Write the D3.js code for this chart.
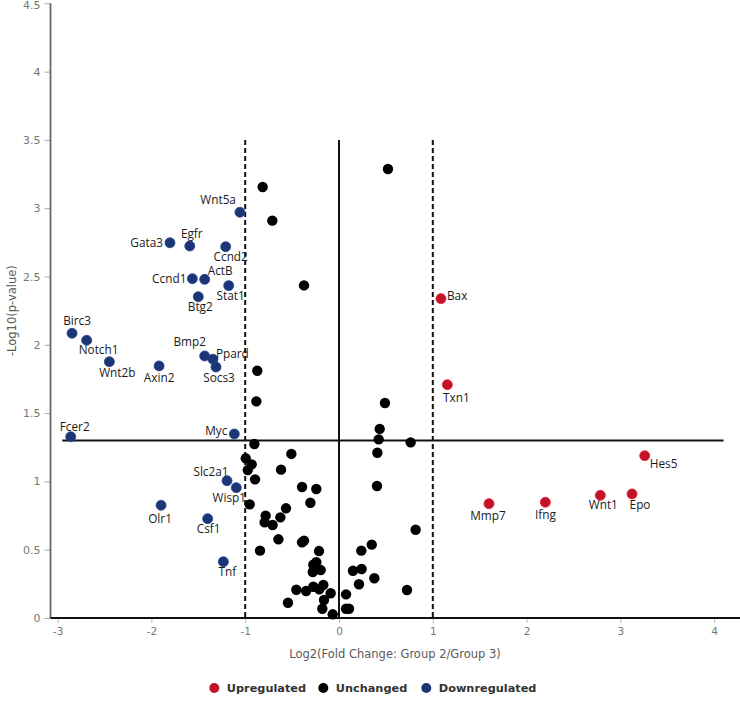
<!DOCTYPE html>
<html>
<head>
<meta charset="utf-8">
<script src="https://cdn.jsdelivr.net/npm/d3@7"></script>
<style>
  html, body { margin: 0; padding: 0; background: #fff; }
  svg { display: block; }
</style>
</head>
<body>
<svg id="chart" width="740" height="702"></svg>
<script>
// ---- Data ----
const upGenes = ["Bax", "Txn1", "Hes5", "Mmp7", "Ifng", "Wnt1", "Epo"];
const upLog2FC = [1.087, 1.155, 3.259, 1.599, 2.200, 2.786, 3.124];
const upNegLogP = [2.338, 1.708, 1.188, 0.837, 0.847, 0.898, 0.908];

const downGenes = ["Wnt5a", "Gata3", "Egfr", "Ccnd2", "Ccnd1", "ActB", "Stat1", "Btg2",
  "Birc3", "Notch1", "Wnt2b", "Axin2", "Bmp2", "Ppard", "Socs3", "Fcer2", "Myc",
  "Slc2a1", "Wisp1", "Olr1", "Csf1", "Tnf"];
const downLog2FC = [-1.056, -1.802, -1.591, -1.208, -1.563, -1.432, -1.176, -1.500,
  -2.846, -2.690, -2.448, -1.918, -1.432, -1.344, -1.311, -2.860, -1.116,
  -1.194, -1.095, -1.897, -1.400, -1.233];
const downNegLogP = [2.970, 2.747, 2.723, 2.718, 2.484, 2.479, 2.433, 2.352,
  2.084, 2.033, 1.876, 1.845, 1.918, 1.894, 1.837, 1.327, 1.347,
  1.005, 0.954, 0.825, 0.727, 0.412];

const unchangedLog2FC = [0.522, -0.814, -0.711, -0.373, -0.871, -0.881, 0.490, 0.434,
  0.423, 0.764, -0.902, -0.508, 0.409, -0.994, -0.931, -0.973, -0.618, -0.895,
  -0.394, -0.242, 0.405, -0.952, -0.305, -0.565, -0.782, -0.625, -0.793, -0.708,
  0.817, -0.646, -0.394, -0.373, 0.349, -0.842, -0.213, 0.238, -0.242, -0.274,
  -0.195, -0.280, 0.149, 0.241, 0.377, 0.213, -0.455, -0.351, -0.274, -0.210,
  -0.167, -0.089, 0.075, 0.725, -0.544, -0.160, -0.178, 0.075, 0.107, -0.067];
const unchangedNegLogP = [3.287, 3.155, 2.909, 2.435, 1.810, 1.586, 1.574, 1.384,
  1.308, 1.286, 1.274, 1.201, 1.210, 1.169, 1.125, 1.083, 1.086, 1.015,
  0.959, 0.944, 0.966, 0.832, 0.844, 0.803, 0.749, 0.737, 0.700, 0.681,
  0.646, 0.576, 0.554, 0.566, 0.537, 0.493, 0.490, 0.493, 0.408, 0.390,
  0.351, 0.337, 0.346, 0.359, 0.291, 0.247, 0.207, 0.198, 0.229, 0.210,
  0.242, 0.181, 0.173, 0.205, 0.112, 0.132, 0.068, 0.068, 0.068, 0.027];

const xTicks = [-3, -2, -1, 0, 1, 2, 3, 4];
const yTicks = [0, 0.5, 1, 1.5, 2, 2.5, 3, 3.5, 4, 4.5];
const fcThreshold = 1;
const pThreshold = 1.3;
const legendLabels = ["Upregulated", "Unchanged", "Downregulated"];

// ---- Label placement (layout only) ----
const labelPlace = {
  Wnt5a: ["end", -4, -8], Gata3: ["end", -7, 4], Egfr: ["middle", 2, -8],
  Ccnd2: ["middle", 5, 14], Ccnd1: ["end", -6, 4], ActB: ["start", 3, -4],
  Stat1: ["middle", 2, 14], Btg2: ["middle", 2, 14], Birc3: ["middle", 5, -8],
  Notch1: ["start", -8, 14], Wnt2b: ["middle", 8, 15], Axin2: ["middle", 0, 16],
  Bmp2: ["middle", -15, -10], Ppard: ["start", 3, -1], Socs3: ["middle", 3, 15],
  Fcer2: ["middle", 4, -6], Myc: ["end", -7, 1], Slc2a1: ["middle", -16, -5],
  Wisp1: ["middle", -7, 14], Olr1: ["middle", -1, 18], Csf1: ["middle", 1, 14],
  Tnf: ["middle", 4, 14],
  Bax: ["start", 6, 1], Txn1: ["middle", 9, 17], Hes5: ["start", 5, 12],
  Mmp7: ["middle", -1, 16], Ifng: ["middle", 0, 17], Wnt1: ["middle", 3, 14],
  Epo: ["middle", 8, 15]
};

const colors = { up: "#c0142a", none: "#000000", down: "#1c3675" };

// ---- Scales ----
const svg = d3.select("#chart");
const x = d3.scaleLinear().domain([-3, 4]).range([57.6, 714.2]);
const y = d3.scaleLinear().domain([0, 4.5]).range([618, 3.3]);
const axisLeftX = 50.5, axisRightX = 740;

// ---- Axes ----
const yAxis = svg.append("g")
  .attr("transform", `translate(${axisLeftX},0)`)
  .call(d3.axisLeft(y).tickValues(yTicks).tickSize(6).tickPadding(4)
    .tickFormat(d => String(d)));
yAxis.select(".domain").remove();
yAxis.selectAll(".tick line").attr("stroke", "#aaa");
yAxis.selectAll(".tick text").attr("fill", "#777")
  .style("font-family", "DejaVu Sans").style("font-size", "11px")
  .attr("dy", d => d === 4.5 ? "0.75em" : "0.32em")
  .attr("y", d => d === 4.5 ? -3.3 : 0);

const xAxis = svg.append("g")
  .attr("transform", `translate(0,${y(0)})`)
  .call(d3.axisBottom(x).tickValues(xTicks).tickSize(5).tickPadding(5)
    .tickFormat(d => String(d)));
xAxis.select(".domain").remove();
xAxis.selectAll(".tick line").attr("stroke", "#bbb");
xAxis.selectAll(".tick text").attr("fill", "#777")
  .style("font-family", "DejaVu Sans").style("font-size", "10.5px");

svg.append("line")
  .attr("x1", axisLeftX).attr("x2", axisLeftX).attr("y1", y(4.5)).attr("y2", y(0))
  .attr("stroke", "#666").attr("stroke-width", 1.8);
svg.append("line")
  .attr("x1", axisLeftX).attr("x2", axisRightX).attr("y1", y(0)).attr("y2", y(0))
  .attr("stroke", "#111").attr("stroke-width", 2);

// axis titles
svg.append("text")
  .attr("x", 395).attr("y", 658)
  .attr("text-anchor", "middle").attr("fill", "#5a5a5a")
  .style("font-family", "DejaVu Sans").style("font-size", "11.5px")
  .text("Log2(Fold Change: Group 2/Group 3)");
svg.append("text")
  .attr("transform", `translate(16,${y(2.25)}) rotate(-90)`)
  .attr("text-anchor", "middle").attr("fill", "#5a5a5a")
  .style("font-family", "DejaVu Sans").style("font-size", "11.5px")
  .text("-Log10(p-value)");

// ---- Threshold lines ----
const g = svg.append("g");
g.append("line")
  .attr("x1", x(0)).attr("x2", x(0)).attr("y1", y(3.5)).attr("y2", y(0))
  .attr("stroke", "#111").attr("stroke-width", 2);
[-fcThreshold, fcThreshold].forEach(v => {
  g.append("line")
    .attr("x1", x(v)).attr("x2", x(v)).attr("y1", y(3.5)).attr("y2", y(0))
    .attr("stroke", "#111").attr("stroke-width", 2).attr("stroke-dasharray", "5,3");
});
g.append("line")
  .attr("x1", x(-2.95)).attr("x2", x(4.10)).attr("y1", y(pThreshold)).attr("y2", y(pThreshold))
  .attr("stroke", "#111").attr("stroke-width", 2);

// ---- Points ----
const unchanged = unchangedLog2FC.map((v, i) => ({ fc: v, p: unchangedNegLogP[i] }));
const up = upGenes.map((n, i) => ({ name: n, fc: upLog2FC[i], p: upNegLogP[i] }));
const down = downGenes.map((n, i) => ({ name: n, fc: downLog2FC[i], p: downNegLogP[i] }));

g.selectAll("circle.none").data(unchanged).enter().append("circle")
  .attr("class", "none")
  .attr("cx", d => x(d.fc)).attr("cy", d => y(d.p)).attr("r", 5.2)
  .attr("fill", colors.none);

function drawGroup(data, color, cls) {
  g.selectAll("circle." + cls).data(data).enter().append("circle")
    .attr("class", cls)
    .attr("cx", d => x(d.fc)).attr("cy", d => y(d.p)).attr("r", 5)
    .attr("fill", color).attr("stroke", d3.color(color).brighter(0.6)).attr("stroke-width", 0.8);
  g.selectAll("text." + cls).data(data).enter().append("text")
    .attr("class", cls)
    .attr("x", d => x(d.fc) + labelPlace[d.name][1])
    .attr("y", d => y(d.p) + labelPlace[d.name][2])
    .attr("text-anchor", d => labelPlace[d.name][0])
    .attr("fill", "#1a1a1a")
    .style("font-family", "Open Sans").style("font-size", "11.8px")
    .text(d => d.name);
}
drawGroup(down, colors.down, "down");
drawGroup(up, colors.up, "up");

// ---- Legend ----
const legendColors = [colors.up, colors.none, colors.down];
const legendX = [214.3, 323.3, 426.3];
const leg = svg.append("g");
legendLabels.forEach((lab, i) => {
  leg.append("circle").attr("cx", legendX[i]).attr("cy", 688).attr("r", 5)
    .attr("fill", legendColors[i]);
  leg.append("text").attr("x", legendX[i] + 12.5).attr("y", 692)
    .attr("fill", "#333").style("font-family", "DejaVu Sans").style("font-weight", "bold")
    .style("font-size", "11.3px").text(lab);
});
</script>
</body>
</html>
